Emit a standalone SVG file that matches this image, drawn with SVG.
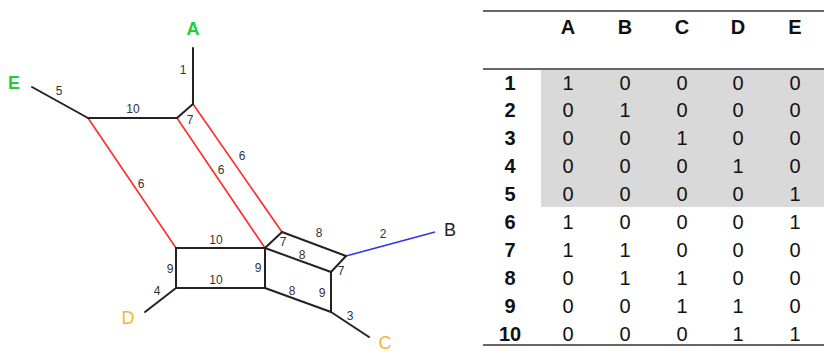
<svg xmlns="http://www.w3.org/2000/svg" width="830" height="357" viewBox="0 0 830 357">
<style>
.e{stroke:#222;stroke-width:2;fill:none;stroke-linecap:round}
.r{stroke:#ff2a2a;stroke-width:1.6;fill:none}
.b{stroke:#3333ee;stroke-width:1.6;fill:none}
.w{font-family:"Liberation Sans",Arial,sans-serif;font-size:12px;fill:#333;text-anchor:middle}
.n{font-family:"Liberation Sans",Arial,sans-serif;font-size:18px;text-anchor:middle}
.g{fill:#22cc33;font-weight:bold}
.o{fill:#f2b630}
.k{fill:#222}
.t{font-family:"Liberation Sans",Arial,sans-serif;font-size:20px;fill:#111;text-anchor:middle}
.h{font-weight:bold}
.rule{stroke:#666;stroke-width:2}
</style>
<rect width="830" height="357" fill="#fff"/>
<g id="connectors">
<line class="r" x1="88" y1="118" x2="176" y2="248"/>
<line class="r" x1="177" y1="118" x2="265" y2="248"/>
<line class="r" x1="193" y1="104" x2="282" y2="232"/>
<line class="b" x1="346" y1="256" x2="435" y2="232"/>
<line class="e" x1="193" y1="48" x2="193" y2="104"/>
<line class="e" x1="32" y1="87" x2="88" y2="118"/>
<line class="e" x1="88" y1="118" x2="177" y2="118"/>
<line class="e" x1="177" y1="118" x2="193" y2="104"/>
<line class="e" x1="176" y1="248" x2="265" y2="248"/>
<line class="e" x1="176" y1="288" x2="265" y2="288"/>
<line class="e" x1="176" y1="248" x2="176" y2="288"/>
<line class="e" x1="265" y1="248" x2="265" y2="288"/>
<line class="e" x1="265" y1="248" x2="282" y2="232"/>
<line class="e" x1="282" y1="232" x2="346" y2="256"/>
<line class="e" x1="346" y1="256" x2="331" y2="272"/>
<line class="e" x1="265" y1="248" x2="331" y2="272"/>
<line class="e" x1="331" y1="272" x2="331" y2="312"/>
<line class="e" x1="265" y1="288" x2="331" y2="312"/>
<line class="e" x1="331" y1="312" x2="369" y2="337"/>
<line class="e" x1="176" y1="288" x2="145" y2="312"/>
<text class="w" x="183" y="74">1</text>
<text class="w" x="59" y="95">5</text>
<text class="w" x="133" y="113">10</text>
<text class="w" x="190" y="124">7</text>
<text class="w" x="141" y="188">6</text>
<text class="w" x="221" y="174">6</text>
<text class="w" x="242" y="160">6</text>
<text class="w" x="216" y="244">10</text>
<text class="w" x="216" y="284">10</text>
<text class="w" x="170" y="273">9</text>
<text class="w" x="258" y="272">9</text>
<text class="w" x="283" y="246">7</text>
<text class="w" x="319" y="237">8</text>
<text class="w" x="302" y="259">8</text>
<text class="w" x="341" y="275">7</text>
<text class="w" x="322" y="297">9</text>
<text class="w" x="292" y="295">8</text>
<text class="w" x="383" y="238">2</text>
<text class="w" x="350" y="320">3</text>
<text class="w" x="157" y="295">4</text>
</g>
<g id="node-A"><text class="n g" x="193" y="35">A</text></g>
<g id="node-E"><text class="n g" x="14" y="89">E</text></g>
<g id="node-B"><text class="n k" x="450" y="236">B</text></g>
<g id="node-C"><text class="n o" x="385" y="349">C</text></g>
<g id="node-D"><text class="n o" x="128" y="324">D</text></g>
<g id="table">
<rect x="541" y="69" width="283" height="138" fill="#d9d9d9"/>
<line class="rule" x1="483" y1="11" x2="824" y2="11"/>
<line class="rule" x1="483" y1="69" x2="824" y2="69"/>
<line class="rule" x1="483" y1="345" x2="824" y2="345"/>
<g class="t h">
<text x="568" y="34">A</text><text x="625" y="34">B</text><text x="682" y="34">C</text><text x="738" y="34">D</text><text x="795" y="34">E</text>
<text x="510" y="90">1</text><text x="510" y="117">2</text><text x="510" y="145">3</text><text x="510" y="173">4</text><text x="510" y="201">5</text>
<text x="510" y="229">6</text><text x="510" y="257">7</text><text x="510" y="285">8</text><text x="510" y="313">9</text><text x="510" y="341">10</text>
</g>
<g class="t">
<text x="568" y="90">1</text><text x="625" y="90">0</text><text x="682" y="90">0</text><text x="738" y="90">0</text><text x="795" y="90">0</text>
<text x="568" y="117">0</text><text x="625" y="117">1</text><text x="682" y="117">0</text><text x="738" y="117">0</text><text x="795" y="117">0</text>
<text x="568" y="145">0</text><text x="625" y="145">0</text><text x="682" y="145">1</text><text x="738" y="145">0</text><text x="795" y="145">0</text>
<text x="568" y="173">0</text><text x="625" y="173">0</text><text x="682" y="173">0</text><text x="738" y="173">1</text><text x="795" y="173">0</text>
<text x="568" y="201">0</text><text x="625" y="201">0</text><text x="682" y="201">0</text><text x="738" y="201">0</text><text x="795" y="201">1</text>
<text x="568" y="229">1</text><text x="625" y="229">0</text><text x="682" y="229">0</text><text x="738" y="229">0</text><text x="795" y="229">1</text>
<text x="568" y="257">1</text><text x="625" y="257">1</text><text x="682" y="257">0</text><text x="738" y="257">0</text><text x="795" y="257">0</text>
<text x="568" y="285">0</text><text x="625" y="285">1</text><text x="682" y="285">1</text><text x="738" y="285">0</text><text x="795" y="285">0</text>
<text x="568" y="313">0</text><text x="625" y="313">0</text><text x="682" y="313">1</text><text x="738" y="313">1</text><text x="795" y="313">0</text>
<text x="568" y="341">0</text><text x="625" y="341">0</text><text x="682" y="341">0</text><text x="738" y="341">1</text><text x="795" y="341">1</text>
</g>
</g>
</svg>
